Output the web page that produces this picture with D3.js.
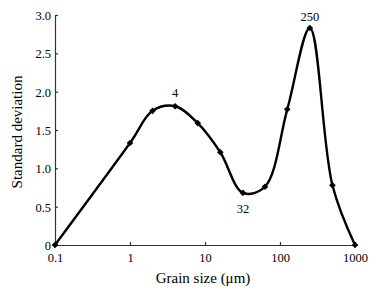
<!DOCTYPE html>
<html>
<head>
<meta charset="utf-8">
<script src="https://cdn.jsdelivr.net/npm/d3@7"></script>
<style>
  body { margin: 0; background: #fff; }
</style>
</head>
<body>
<div id="chart"></div>
<script>
// grain size (µm) and standard deviation
const grainSizes = [0.1, 1, 2, 4, 8, 16, 32, 63, 125, 250, 500, 1000];
const stdDev = [0, 1.33, 1.75, 1.81, 1.59, 1.21, 0.68, 0.76, 1.77, 2.83, 0.78, 0];
const xTicks = [0.1, 1, 10, 100, 1000];
const yTicks = [0, 0.5, 1.0, 1.5, 2.0, 2.5, 3.0];
const peakLabels = [
    {x: 4, y: 1.81, text: "4", dy: -9},
    {x: 32, y: 0.68, text: "32", dy: 20},
    {x: 250, y: 2.83, text: "250", dy: -7}
];

const serif = "'Liberation Serif', 'Times New Roman', serif";
const width = 381, height = 295;
const margin = {top: 15, right: 26, bottom: 50, left: 55};
const innerW = width - margin.left - margin.right,
    innerH = height - margin.top - margin.bottom;

const svg = d3.select("#chart")
    .append("svg")
    .attr("width", width)
    .attr("height", height);

const g = svg.append("g")
    .attr("transform", `translate(${margin.left},${margin.top})`);

const x = d3.scaleLog()
    .domain([0.1, 1000])
    .range([0, innerW]);

const y = d3.scaleLinear()
    .domain([0, 3])
    .range([innerH, 0]);

// X axis
const xAxis = g.append("g")
    .attr("transform", `translate(0,${innerH})`)
    .call(d3.axisBottom(x)
        .tickValues(xTicks)
        .tickFormat(d => d < 1 ? "0.1" : d3.format("d")(d))
        .tickSize(-3)
        .tickPadding(8));

// Y axis
const yAxis = g.append("g")
    .call(d3.axisLeft(y)
        .tickValues(yTicks)
        .tickFormat(d => d === 0 ? "0" : d3.format(".1f")(d))
        .tickSize(-3)
        .tickPadding(4));

[xAxis, yAxis].forEach(a => {
    a.attr("font-family", serif).attr("font-size", 12.5);
    a.select(".domain").attr("stroke", "#333").attr("stroke-width", 1.2);
    a.selectAll(".tick line").attr("stroke", "#333").attr("stroke-width", 1.2);
    a.selectAll(".tick text")
        .style("font-family", serif)
        .style("font-size", "12.5px")
        .attr("fill", "#000");
});
yAxis.selectAll(".tick text").attr("dy", "0.35em");

const data = grainSizes.map((d, i) => ({x: d, y: stdDev[i]}));

// curve
g.append("path")
    .datum(data)
    .attr("fill", "none")
    .attr("stroke", "#000")
    .attr("stroke-width", 2.4)
    .attr("d", d3.line()
        .x(d => x(d.x))
        .y(d => y(d.y))
        .curve(d3.curveCatmullRom.alpha(0.5)));

// diamond markers
g.selectAll(".marker")
    .data(data)
    .join("path")
    .attr("class", "marker")
    .attr("transform", d => `translate(${x(d.x)},${y(d.y)}) rotate(45)`)
    .attr("d", d3.symbol(d3.symbolSquare, 22))
    .attr("fill", "#000");

// peak labels
g.selectAll(".peak")
    .data(peakLabels)
    .join("text")
    .attr("class", "peak")
    .attr("x", d => x(d.x))
    .attr("y", d => y(d.y) + d.dy)
    .attr("text-anchor", "middle")
    .style("font-family", serif)
    .style("font-size", "12.5px")
    .text(d => d.text);

// axis titles
svg.append("text")
    .attr("x", margin.left + innerW / 2 - 2)
    .attr("y", 283)
    .attr("text-anchor", "middle")
    .style("font-family", serif)
    .style("font-size", "15px")
    .text("Grain size (μm)");

svg.append("text")
    .attr("transform", `translate(22,${margin.top + innerH / 2 + 2}) rotate(-90)`)
    .attr("text-anchor", "middle")
    .style("font-family", serif)
    .style("font-size", "15px")
    .text("Standard deviation");
</script>
</body>
</html>
